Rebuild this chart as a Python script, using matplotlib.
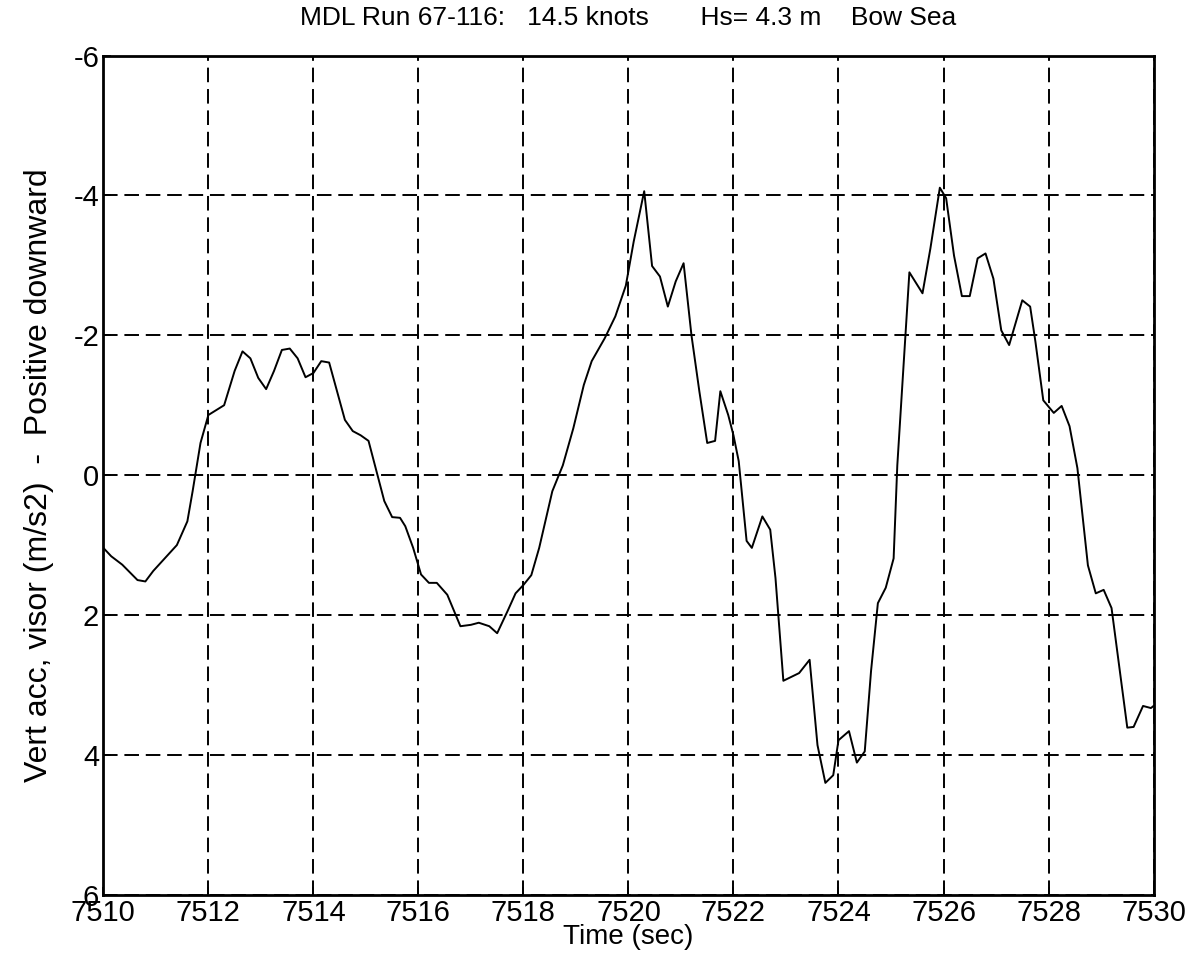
import matplotlib.pyplot as plt
from matplotlib import font_manager

# visor vertical acceleration trace (time in s, acc in m/s2, positive downward)
time_s = [
    7510.0, 7510.15, 7510.36, 7510.65, 7510.8, 7510.95, 7511.4, 7511.6, 7511.7,
    7511.85, 7512.0, 7512.3, 7512.5, 7512.65, 7512.8, 7512.95, 7513.1, 7513.25,
    7513.4, 7513.55, 7513.7, 7513.85, 7514.0, 7514.15, 7514.3, 7514.45, 7514.6,
    7514.75, 7514.9, 7515.05, 7515.2, 7515.35, 7515.5, 7515.65, 7515.75, 7515.9,
    7516.05, 7516.2, 7516.35, 7516.55, 7516.8, 7517.0, 7517.15, 7517.35, 7517.5,
    7517.7, 7517.85, 7518.0, 7518.15, 7518.3, 7518.55, 7518.75, 7518.95, 7519.15,
    7519.3, 7519.55, 7519.75, 7519.95, 7520.1, 7520.3, 7520.45, 7520.6, 7520.75,
    7520.9, 7521.05, 7521.2, 7521.35, 7521.5, 7521.65, 7521.75, 7521.9, 7522.0,
    7522.1, 7522.25, 7522.35, 7522.55, 7522.7, 7522.8, 7522.95, 7523.25, 7523.45,
    7523.6, 7523.75, 7523.9, 7524.0, 7524.2, 7524.35, 7524.5, 7524.62, 7524.75,
    7524.9, 7525.05, 7525.12, 7525.2, 7525.35, 7525.6, 7525.75, 7525.93, 7526.05,
    7526.2, 7526.35, 7526.5, 7526.65, 7526.8, 7526.95, 7527.1, 7527.25, 7527.5,
    7527.65, 7527.75, 7527.9, 7528.1, 7528.25, 7528.4, 7528.55, 7528.75, 7528.9,
    7529.05, 7529.2, 7529.5, 7529.62, 7529.8, 7529.95, 7530.0,
]
vert_acc = [
    1.04, 1.16, 1.28, 1.50, 1.52, 1.37, 1.00, 0.66, 0.23,
    -0.46, -0.86, -1.00, -1.49, -1.77, -1.67, -1.39, -1.23, -1.49,
    -1.79, -1.81, -1.67, -1.40, -1.46, -1.63, -1.61, -1.20, -0.79,
    -0.63, -0.57, -0.49, -0.06, 0.37, 0.60, 0.61, 0.73, 1.04,
    1.42, 1.54, 1.54, 1.71, 2.16, 2.14, 2.11, 2.16, 2.26,
    1.94, 1.69, 1.57, 1.43, 1.04, 0.23, -0.14, -0.67, -1.29,
    -1.63, -1.96, -2.27, -2.71, -3.34, -4.06, -2.99, -2.84, -2.41,
    -2.77, -3.03, -2.00, -1.20, -0.46, -0.49, -1.20, -0.86, -0.57,
    -0.20, 0.94, 1.04, 0.59, 0.78, 1.47, 2.94, 2.83, 2.64,
    3.86, 4.40, 4.29, 3.79, 3.66, 4.11, 3.95, 2.80, 1.83,
    1.61, 1.19, -0.14, -1.10, -2.90, -2.60, -3.24, -4.11, -3.96,
    -3.14, -2.56, -2.56, -3.10, -3.17, -2.81, -2.07, -1.86, -2.50,
    -2.41, -1.91, -1.07, -0.89, -0.99, -0.70, -0.10, 1.29, 1.69,
    1.64, 1.90, 3.61, 3.60, 3.30, 3.33, 3.30,
]

x_ticks = list(range(7510, 7531, 2))
y_ticks = [-6, -4, -2, 0, 2, 4, 6]

title_text = "MDL Run 67-116:   14.5 knots       Hs= 4.3 m    Bow Sea"
x_label = "Time (sec)"
y_label = "Vert acc, visor (m/s2)  -  Positive downward"

names = {f.name for f in font_manager.fontManager.ttflist}
narrow = "Liberation Sans Narrow" if "Liberation Sans Narrow" in names else "Liberation Sans"
plt.rcParams["font.family"] = [narrow, "DejaVu Sans"]
plt.rcParams["axes.unicode_minus"] = False

fig = plt.figure(figsize=(11.88, 9.57), dpi=100)
ax = fig.add_axes([0.087, 0.065, 0.884, 0.877])

ax.plot(time_s, vert_acc, color="black", linewidth=1.4)

ax.set_xlim(7510, 7530)
ax.set_ylim(6, -6)
ax.set_xticks(x_ticks)
ax.set_yticks(y_ticks)
ax.tick_params(direction="in", length=6, width=1.2, labelsize=21, pad=3)
ax.grid(True, color="black", linestyle=(0, (7.5, 3.5)), linewidth=1.4)

for spine in ax.spines.values():
    spine.set_linewidth(2)

ax.set_title(title_text, fontsize=19, pad=22)
ax.set_xlabel(x_label, fontsize=20, labelpad=-2)
ax.set_ylabel(y_label, fontsize=23, labelpad=14)

fig.savefig("out.png", dpi=100)
